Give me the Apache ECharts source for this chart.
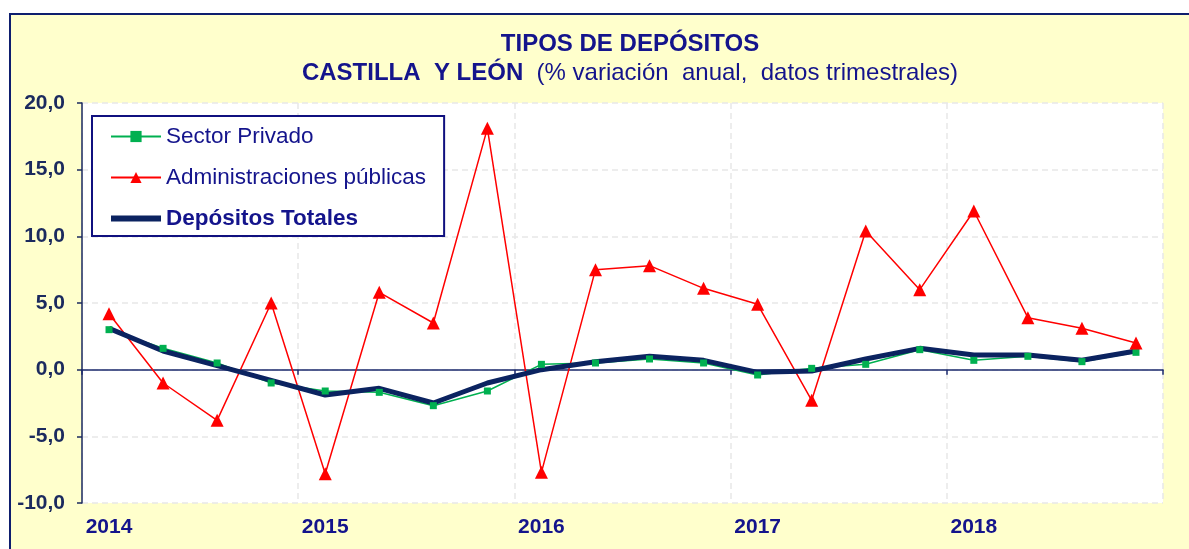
<!DOCTYPE html>
<html>
<head>
<meta charset="utf-8">
<title>Tipos de depósitos</title>
<script src="https://cdn.jsdelivr.net/npm/echarts@6/dist/echarts.min.js"></script>
<style>
  html, body { margin: 0; padding: 0; background: #fff; }
  #chart { width: 1189px; height: 549px; }
</style>
</head>
<body>
<div id="chart"></div>
<script>
// trimestres 2014T1 .. 2018T4
const quarters = [
  '2014T1', '2014T2', '2014T3', '2014T4',
  '2015T1', '2015T2', '2015T3', '2015T4',
  '2016T1', '2016T2', '2016T3', '2016T4',
  '2017T1', '2017T2', '2017T3', '2017T4',
  '2018T1', '2018T2', '2018T3', '2018T4'
]
// % variación anual
const sectorPrivado = [3.0, 1.6, 0.5, -1.0, -1.6, -1.7, -2.7, -1.6, 0.4, 0.5, 0.8, 0.5, -0.4, 0.1, 0.4, 1.5, 0.7, 1.0, 0.6, 1.3]
const adminPublicas = [4.2, -1.0, -3.8, 5.0, -7.8, 5.8, 3.5, 18.1, -7.7, 7.5, 7.8, 6.1, 4.9, -2.3, 10.4, 6.0, 11.9, 3.9, 3.1, 2.0]
const depositosTotales = [3.1, 1.4, 0.3, -0.8, -1.9, -1.4, -2.5, -1.0, 0.0, 0.6, 1.0, 0.7, -0.2, -0.1, 0.8, 1.6, 1.1, 1.1, 0.7, 1.4]
const yTicks = { min: -10, max: 20, step: 5 }

const FONT = '"Liberation Sans", Arial, sans-serif'
const NAVY = '#14148C'
const NAVY_DARK = '#1B2A5E'
const TOTAL_COLOR = '#0B2360'

const chart = echarts.init(document.getElementById('chart'))

const option = {
  backgroundColor: '#fff',
  animation: false,
  textStyle: { fontFamily: FONT },
  graphic: [
    // fondo amarillo con borde
    {
      type: 'rect',
      z: -10,
      shape: { x: 10, y: 14, width: 1200, height: 560 },
      style: { fill: '#FFFFCC', stroke: '#0E1E6E', lineWidth: 2 }
    },
    {
      type: 'text',
      x: 630,
      y: 44,
      style: {
        text: 'TIPOS DE DEPÓSITOS',
        font: 'bold 24px ' + FONT,
        fill: NAVY,
        align: 'center',
        verticalAlign: 'middle'
      }
    },
    {
      type: 'text',
      x: 630,
      y: 73,
      style: {
        text: '{b|CASTILLA  Y LEÓN}{n|  (% variación  anual,  datos trimestrales)}',
        align: 'center',
        verticalAlign: 'middle',
        rich: {
          b: { font: 'bold 24px ' + FONT, fill: NAVY },
          n: { font: '24px ' + FONT, fill: NAVY }
        }
      }
    }
  ],
  grid: {
    left: 82,
    top: 103,
    width: 1081,
    height: 400,
    show: true,
    backgroundColor: '#fff',
    borderWidth: 0,
    containLabel: false
  },
  legend: {
    orient: 'vertical',
    left: 92,
    top: 116,
    padding: [9, 18, 6, 16],
    itemGap: 18,
    itemWidth: 50,
    itemHeight: 14,
    backgroundColor: '#fff',
    borderColor: '#10107F',
    borderWidth: 2,
    textStyle: { fontSize: 22.5, color: NAVY, fontFamily: FONT },
    data: [
      { name: 'Sector Privado' },
      { name: 'Administraciones públicas' },
      {
        name: 'Depósitos Totales',
        textStyle: { fontWeight: 'bold' },
        itemStyle: { color: 'rgba(0,0,0,0)', borderWidth: 0 },
        lineStyle: { color: TOTAL_COLOR, width: 6 }
      }
    ]
  },
  xAxis: [
    {
      // etiquetas de año abajo + rejilla vertical
      type: 'category',
      data: quarters,
      position: 'bottom',
      boundaryGap: true,
      axisLine: { show: false, onZero: false },
      axisTick: { show: false },
      axisLabel: {
        interval: 3,
        margin: 14,
        formatter: (v) => v.slice(0, 4),
        color: NAVY,
        fontSize: 21,
        fontWeight: 'bold',
        fontFamily: FONT
      },
      splitLine: {
        show: true,
        interval: 3,
        lineStyle: { color: '#E8E8E8', type: [6, 4], width: 1.5 }
      }
    },
    {
      // eje en el cero
      type: 'category',
      data: quarters,
      position: 'top',
      boundaryGap: true,
      axisLine: { show: true, onZero: true, lineStyle: { color: '#1B2A6E', width: 1.5 } },
      axisTick: { show: true, interval: 3, inside: true, length: 5, lineStyle: { color: '#1B2A6E', width: 1.5 } },
      axisLabel: { show: false },
      splitLine: { show: false }
    }
  ],
  yAxis: {
    type: 'value',
    min: yTicks.min,
    max: yTicks.max,
    interval: yTicks.step,
    axisLine: { show: true, lineStyle: { color: '#1B2A5E', width: 1.5 } },
    axisTick: { show: true, length: 5, lineStyle: { color: '#1B2A5E', width: 1.5 } },
    axisLabel: {
      margin: 17,
      formatter: (v) => v.toFixed(1).replace('.', ','),
      color: NAVY_DARK,
      fontSize: 21,
      fontWeight: 'bold',
      fontFamily: FONT
    },
    splitLine: {
      show: true,
      lineStyle: { color: '#E8E8E8', type: [6, 4], width: 1.5 }
    }
  },
  series: [
    {
      name: 'Sector Privado',
      type: 'line',
      data: sectorPrivado,
      symbol: 'rect',
      symbolSize: 7,
      itemStyle: { color: '#00B050' },
      lineStyle: { color: '#00B050', width: 1.5 }
    },
    {
      name: 'Administraciones públicas',
      type: 'line',
      data: adminPublicas,
      symbol: 'triangle',
      symbolSize: 13,
      itemStyle: { color: '#FF0000' },
      lineStyle: { color: '#FF0000', width: 1.5 }
    },
    {
      name: 'Depósitos Totales',
      type: 'line',
      data: depositosTotales,
      symbol: 'none',
      itemStyle: { color: TOTAL_COLOR },
      lineStyle: { color: TOTAL_COLOR, width: 5 }
    }
  ]
}

chart.setOption(option)
</script>
</body>
</html>
